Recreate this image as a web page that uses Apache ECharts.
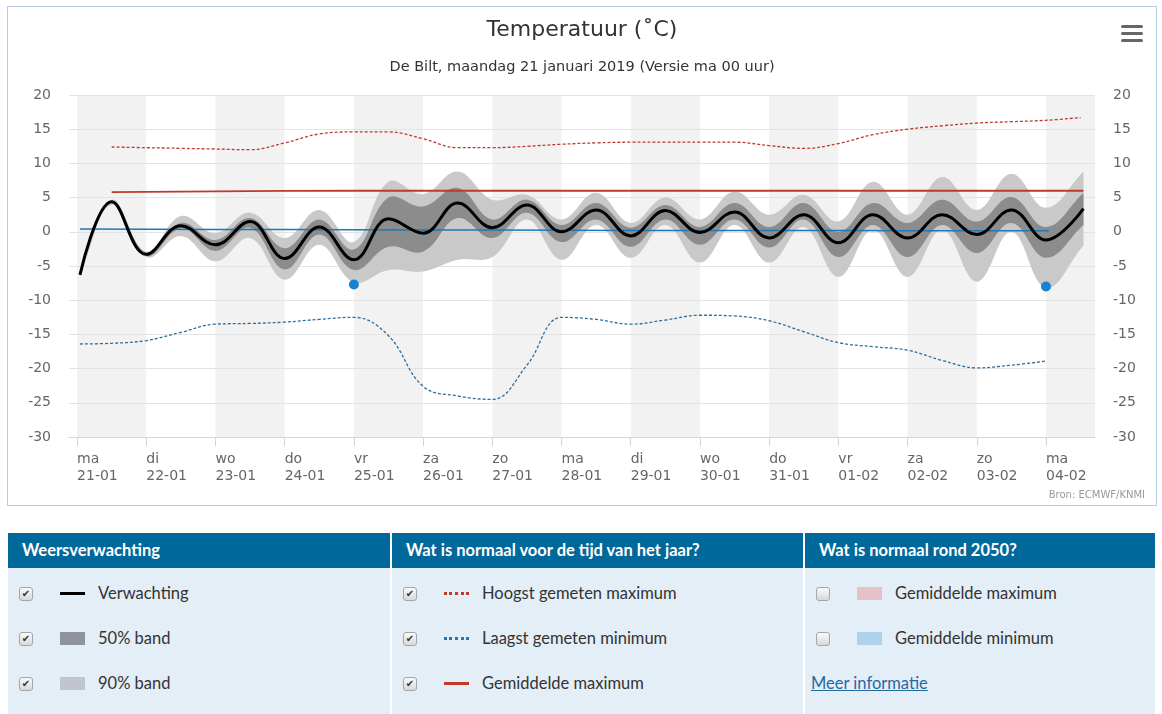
<!DOCTYPE html>
<html>
<head>
<meta charset="utf-8">
<script src="https://cdn.jsdelivr.net/npm/echarts@6/dist/echarts.min.js"></script>
<style>
  body { margin: 0; background: #fff; width: 1162px; height: 714px; overflow: hidden; position: relative; }
  #main { position: absolute; left: 7px; top: 6px; width: 1148px; height: 498px; border: 1px solid #b9cce6; }
  .col { position: absolute; top: 533px; height: 190px; background: #e4eef7; font-family: Lato, "Open Sans", sans-serif; }
  .kop { height: 35px; background: #01689b; color: #fff; font-weight: bold; font-size: 16.5px; line-height: 35px; padding-left: 14px; }
  .rij { position: absolute; left: 0; height: 20px; font-size: 16.5px; color: #333; }
  .vak { position: absolute; left: 11px; top: 3px; width: 12px; height: 12px; border: 1px solid #a5a5a5; border-radius: 3px;
         background: linear-gradient(#fafafa, #d8d8d8); font-size: 10px; line-height: 12px; text-align: center; color: #333; font-family: "DejaVu Sans"; }
  .sw { position: absolute; left: 52px; }
  .txt { position: absolute; left: 90px; top: -1px; white-space: nowrap; }
  a { color: #1f6aa0; }
</style>
</head>
<body>
<div id="main"></div>

<div class="col" style="left:8px;width:382px">
  <div class="kop">Weersverwachting</div>
  <div class="rij" style="top:51px"><span class="vak">✔</span><span class="sw" style="top:8px;width:25px;height:3px;background:#000"></span><span class="txt">Verwachting</span></div>
  <div class="rij" style="top:96px"><span class="vak">✔</span><span class="sw" style="top:3px;width:25px;height:13px;background:#8e9499"></span><span class="txt">50% band</span></div>
  <div class="rij" style="top:141px"><span class="vak">✔</span><span class="sw" style="top:3px;width:25px;height:13px;background:#c0c6cc"></span><span class="txt">90% band</span></div>
</div>
<div class="col" style="left:392px;width:411px">
  <div class="kop">Wat is normaal voor de tijd van het jaar?</div>
  <div class="rij" style="top:51px"><span class="vak">✔</span><span class="sw" style="top:8px;width:25px;height:0;border-top:3px dotted #c0392b"></span><span class="txt">Hoogst gemeten maximum</span></div>
  <div class="rij" style="top:96px"><span class="vak">✔</span><span class="sw" style="top:8px;width:25px;height:0;border-top:3px dotted #1f78b4"></span><span class="txt">Laagst gemeten minimum</span></div>
  <div class="rij" style="top:141px"><span class="vak">✔</span><span class="sw" style="top:8px;width:25px;height:3px;background:#c0392b"></span><span class="txt">Gemiddelde maximum</span></div>
</div>
<div class="col" style="left:805px;width:350px">
  <div class="kop">Wat is normaal rond 2050?</div>
  <div class="rij" style="top:51px"><span class="vak"></span><span class="sw" style="top:3px;width:25px;height:13px;background:#e6c1c5"></span><span class="txt">Gemiddelde maximum</span></div>
  <div class="rij" style="top:96px"><span class="vak"></span><span class="sw" style="top:3px;width:25px;height:13px;background:#acd2ec"></span><span class="txt">Gemiddelde minimum</span></div>
  <div class="rij" style="top:141px"><span class="txt" style="left:6px"><a href="#">Meer informatie</a></span></div>
</div>

<script>
// dagen op de x-as (uren vanaf ma 21-01 00 uur)
var dagen = ['ma', 'di', 'wo', 'do', 'vr', 'za', 'zo', 'ma', 'di', 'wo', 'do', 'vr', 'za', 'zo', 'ma'];
var datums = ['21-01', '22-01', '23-01', '24-01', '25-01', '26-01', '27-01', '28-01', '29-01', '30-01', '31-01', '01-02', '02-02', '03-02', '04-02'];

// verwachting + banden (5, 25, 75, 95 procent)
var uren = [1, 12, 24, 36, 48, 60, 72, 84, 96, 108, 120, 132, 144, 156, 168, 180, 192, 204, 216, 228, 240, 252, 264, 276, 288, 300, 312, 324, 336, 349];
var verwachting = [-6.3, 4.4, -3.3, 0.9, -1.9, 1.5, -3.9, 0.7, -4.1, 1.9, -0.2, 4.2, 0.6, 3.9, 0.0, 3.2, -0.6, 3.1, -0.1, 2.9, -0.9, 2.5, -1.6, 2.5, -0.9, 2.5, -0.4, 3.2, -1.2, 3.4];
var p05 = [-6.3, 4.0, -3.7, -0.6, -4.3, -0.9, -7.0, -1.9, -7.4, -5.6, -5.8, -4.1, -3.7, 1.8, -4.1, 1.0, -3.8, 1.0, -4.5, 1.0, -4.5, 0.7, -6.6, 0.3, -6.6, 0.3, -7.3, 0.0, -8.2, -2.0];
var p25 = [-6.3, 4.2, -3.5, 0.5, -2.8, 0.6, -5.5, -0.4, -5.6, -2.2, -2.9, 2.0, -0.9, 2.8, -1.5, 1.8, -2.2, 1.8, -1.9, 1.8, -2.3, 1.8, -3.7, 1.0, -3.7, 1.0, -3.1, 1.3, -3.8, 1.0];
var p75 = [-6.3, 4.5, -3.1, 1.3, -1.2, 2.0, -2.4, 1.8, -2.6, 5.0, 3.7, 6.4, 1.8, 4.7, 1.0, 4.2, 0.6, 3.9, 0.7, 4.2, 0.7, 4.2, 0.0, 4.2, 1.3, 4.7, 1.5, 5.1, 0.7, 5.7];
var p95 = [-6.3, 4.7, -2.9, 2.3, -0.2, 2.8, -0.9, 3.2, -1.5, 7.3, 5.5, 8.8, 4.7, 5.4, 1.8, 5.7, 1.3, 5.0, 1.8, 5.9, 2.5, 5.4, 1.5, 7.3, 2.5, 8.0, 3.2, 8.5, 3.5, 8.8];

// normalen
var hoogstUren = [12, 24, 36, 48, 60, 72, 84, 96, 108, 120, 132, 144, 156, 168, 180, 192, 204, 216, 228, 240, 252, 264, 276, 288, 300, 312, 324, 336, 348];
var hoogstMax = [12.4, 12.3, 12.2, 12.1, 12.0, 13.0, 14.3, 14.6, 14.6, 13.6, 12.3, 12.3, 12.5, 12.8, 13.0, 13.1, 13.1, 13.1, 13.1, 12.6, 12.2, 12.9, 14.2, 15.0, 15.5, 15.9, 16.1, 16.3, 16.7];
var laagstUren = [1, 12, 24, 36, 48, 60, 72, 84, 96, 108, 120, 132, 144, 156, 168, 180, 192, 204, 216, 228, 240, 252, 264, 276, 288, 300, 312, 324, 336];
var laagstMin = [-16.4, -16.3, -15.9, -14.7, -13.5, -13.4, -13.2, -12.8, -12.5, -15.2, -22.6, -24.0, -24.5, -19.5, -12.5, -12.8, -13.5, -12.9, -12.2, -12.3, -13.0, -14.6, -16.2, -16.8, -17.3, -18.8, -19.9, -19.5, -18.9];
var gemMaxUren = [12, 48, 96, 144, 192, 240, 288, 336, 349];
var gemMax = [5.8, 5.9, 6.0, 6.0, 6.0, 6.0, 6.0, 6.0, 6.0];
var gemMinUren = [1, 48, 96, 144, 192, 240, 288, 337];
var gemMin = [0.4, 0.35, 0.3, 0.25, 0.2, 0.2, 0.15, 0.15];

// losse punten
var puntUren = [96, 336];
var puntWaarden = [-7.7, -8.0];

var xMin = -2.8, xMax = 353;
var SMOOTH = 0.4;

function paar(xs, ys) {
    var out = [];
    for (var i = 0; i < xs.length; i++) out.push([xs[i], ys[i]]);
    return out;
}

// bezier-stukken door punten, zelfde idee als smooth van echarts lijnen
function curve(pts) {
    var n = pts.length, s = '';
    var cin = [], cout = [];
    for (var i = 0; i < n; i++) {
        var p = pts[i], prev = pts[i > 0 ? i - 1 : i], next = pts[i < n - 1 ? i + 1 : i];
        var vx = next[0] - prev[0], vy = next[1] - prev[1];
        var d0 = Math.hypot(p[0] - prev[0], p[1] - prev[1]);
        var d1 = Math.hypot(next[0] - p[0], next[1] - p[1]);
        var r = (d0 + d1) ? d1 / (d0 + d1) : 0.5;
        cin.push([p[0] - vx * SMOOTH * (1 - r), p[1] - vy * SMOOTH * (1 - r)]);
        cout.push([p[0] + vx * SMOOTH * r, p[1] + vy * SMOOTH * r]);
    }
    for (var j = 0; j < n - 1; j++) {
        s += ' C' + cout[j][0] + ',' + cout[j][1] + ' ' + cin[j + 1][0] + ',' + cin[j + 1][1] + ' ' + pts[j + 1][0] + ',' + pts[j + 1][1];
    }
    return s;
}

function bandSerie(naam, lo, hi, kleur) {
    return {
        name: naam, type: 'custom', silent: true,
        data: paar(uren, lo),
        renderItem: function (params, api) {
            if (params.dataIndex !== 0) return;
            var boven = uren.map(function (u, i) { return api.coord([u, hi[i]]); });
            var onder = uren.map(function (u, i) { return api.coord([u, lo[i]]); }).reverse();
            var d = 'M' + boven[0][0] + ',' + boven[0][1] + curve(boven) +
                ' L' + onder[0][0] + ',' + onder[0][1] + curve(onder) + ' Z';
            return { type: 'path', shape: { pathData: d }, style: { fill: kleur } };
        }
    };
}

// grijze achtergrond voor om-en-om dagen
var banen = [];
for (var i = 0; i < dagen.length; i += 2) {
    banen.push([i * 24, Math.min((i + 1) * 24, xMax)]);
}
var tickUren = dagen.map(function (d, i) { return i * 24; });

var myChart = echarts.init(document.getElementById('main'));
var font = 'DejaVu Sans';
var option = {
    animation: false,
    title: {
        text: 'Temperatuur (˚C)',
        subtext: 'De Bilt, maandag 21 januari 2019 (Versie ma 00 uur)',
        left: 'center',
        top: 12,
        padding: 0,
        itemGap: 19,
        textStyle: { fontFamily: font, fontSize: 22, fontWeight: 'normal', color: '#333' },
        subtextStyle: { fontFamily: font, fontSize: 14.5, color: '#333' }
    },
    grid: { left: 61, top: 88, width: 1026, height: 342 },
    xAxis: {
        type: 'value',
        min: xMin,
        max: xMax,
        splitLine: { show: false },
        axisLine: { onZero: false, lineStyle: { color: '#ccd6eb' } },
        axisTick: { customValues: tickUren, length: 9, lineStyle: { color: '#ccd6eb' } },
        axisLabel: {
            customValues: tickUren,
            align: 'left',
            verticalAlign: 'top',
            margin: 14,
            lineHeight: 17,
            fontFamily: font,
            fontSize: 14,
            color: '#666',
            formatter: function (v) {
                var i = Math.round(v / 24);
                return dagen[i] + '\n' + datums[i];
            }
        }
    },
    yAxis: [0, 1].map(function (k) {
        return {
            type: 'value',
            position: k ? 'right' : 'left',
            min: -30, max: 20, interval: 5,
            axisLine: { show: false },
            axisTick: { show: false },
            splitLine: { show: k === 0, lineStyle: { color: '#e3e3e3' } },
            axisLabel: { margin: 18, fontFamily: font, fontSize: 14, color: '#666' }
        };
    }),
    graphic: [
        { type: 'rect', right: 13, top: 18, shape: { width: 22, height: 3, r: 1.5 }, style: { fill: '#666' } },
        { type: 'rect', right: 13, top: 25, shape: { width: 22, height: 3, r: 1.5 }, style: { fill: '#666' } },
        { type: 'rect', right: 13, top: 32, shape: { width: 22, height: 3, r: 1.5 }, style: { fill: '#666' } },
        { type: 'text', right: 11, top: 483, style: { text: 'Bron: ECMWF/KNMI', font: '10px "DejaVu Sans"', fill: '#999' } }
    ],
    series: [
        {
            type: 'custom',
            z: -1,
            silent: true,
            clip: true,
            data: banen,
            renderItem: function (params, api) {
                var a = api.coord([api.value(0), 20]);
                var b = api.coord([api.value(1), -30]);
                return { type: 'rect', shape: { x: a[0], y: a[1], width: b[0] - a[0], height: b[1] - a[1] }, style: { fill: '#f2f2f2' } };
            }
        },
        bandSerie('90% band', p05, p95, '#c9c9c9'),
        bandSerie('50% band', p25, p75, '#8c8c8c'),
        {
            name: 'Hoogst gemeten maximum', type: 'line', smooth: SMOOTH, symbol: 'none',
            lineStyle: { color: '#c0392b', width: 1.3, type: [3, 2] }, data: paar(hoogstUren, hoogstMax)
        },
        {
            name: 'Laagst gemeten minimum', type: 'line', smooth: SMOOTH, symbol: 'none',
            lineStyle: { color: '#2b6f9e', width: 1.3, type: [3, 2] }, data: paar(laagstUren, laagstMin)
        },
        {
            name: 'Gemiddelde maximum', type: 'line', smooth: true, symbol: 'none',
            lineStyle: { color: '#c0392b', width: 1.8 }, data: paar(gemMaxUren, gemMax)
        },
        {
            name: 'Gemiddelde minimum', type: 'line', smooth: true, symbol: 'none',
            lineStyle: { color: '#1f78b4', width: 1.5 }, data: paar(gemMinUren, gemMin)
        },
        {
            name: 'Verwachting', type: 'line', smooth: SMOOTH, symbol: 'none',
            lineStyle: { color: '#000', width: 3 }, data: paar(uren, verwachting)
        },
        {
            name: 'punten', type: 'scatter', symbolSize: 10,
            itemStyle: { color: '#1a80d0', opacity: 1 }, data: paar(puntUren, puntWaarden)
        }
    ]
};
myChart.setOption(option);
</script>
</body>
</html>
